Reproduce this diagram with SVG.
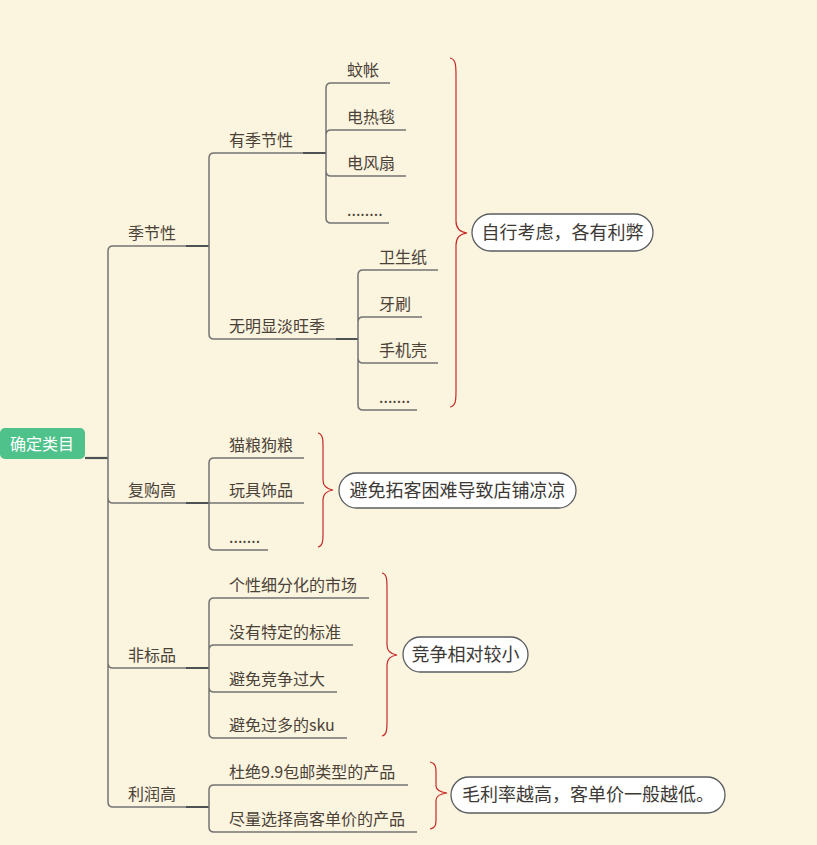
<svg xmlns="http://www.w3.org/2000/svg" width="817" height="845" viewBox="0 0 817 845">
<style>
text{font-family:"Noto Sans CJK SC","Noto Sans",sans-serif;font-size:16px;fill:#4a4238}
.co{font-size:18px;fill:#3d3a36;text-anchor:middle}
.root{fill:#ffffff;text-anchor:middle;font-size:16px}
.ln{fill:none;stroke:#737373;stroke-width:1.5}
.tk{fill:none;stroke:#4f5255;stroke-width:2.2}
.br{fill:none;stroke:#c62a2a;stroke-width:1.2}
.box{fill:#ffffff;stroke:#5a5d60;stroke-width:1.3}
</style>
<rect x="0" y="0" width="817" height="845" fill="#fbf4de"/>
<g id="connectors">
<path class="tk" d="M85,458 H108"/>
<path class="ln" d="M108,458 V251 Q108,246 113,246 M108,458 V498 Q108,503 113,503 M108,458 V663 Q108,668 113,668 M108,458 V802 Q108,807 113,807"/>
<path class="tk" d="M186,246 H209 M186,503 H209 M186,668 H209 M186,807 H209 M303,153 H326 M336,339 H358"/>
<path class="ln" d="M209,246 V158 Q209,153 214,153 M209,246 V334 Q209,339 214,339"/>
<path class="ln" d="M326,153 V88 Q326,83 331,83 M326,153 V135 Q326,130 331,130 M326,153 V171 Q326,176 331,176 M326,153 V218 Q326,223 331,223"/>
<path class="ln" d="M358,339 V275 Q358,270 363,270 M358,339 V322 Q358,317 363,317 M358,339 V358 Q358,363 363,363 M358,339 V405 Q358,410 363,410"/>
<path class="ln" d="M209,503 V463 Q209,458 214,458 M209,503 V545 Q209,550 214,550"/>
<path class="ln" d="M209,668 V603 Q209,598 214,598 M209,668 V650 Q209,645 214,645 M209,668 V687 Q209,692 214,692 M209,668 V733 Q209,738 214,738"/>
<path class="ln" d="M209,807 V790 Q209,785 214,785 M209,807 V827 Q209,832 214,832"/>
</g>
<g id="root"><rect x="0" y="428" width="85" height="31" rx="5" fill="#4fc28b"/><text class="root" x="42" y="450">确定类目</text></g>
<g id="n-jijiexing"><path class="ln" d="M113,246 H186"/><text x="128" y="239">季节性</text></g>
<g id="n-youjijiexing"><path class="ln" d="M214,153 H303"/><text x="229" y="146">有季节性</text></g>
<g id="n-wenzhang"><path class="ln" d="M331,83 H390"/><text x="347" y="76">蚊帐</text></g>
<g id="n-dianretan"><path class="ln" d="M331,130 H406"/><text x="347" y="123">电热毯</text></g>
<g id="n-dianfengshan"><path class="ln" d="M331,176 H406"/><text x="347" y="169">电风扇</text></g>
<g id="n-dots1"><path class="ln" d="M331,223 H389"/><text x="347" y="216">........</text></g>
<g id="n-wuming"><path class="ln" d="M214,339 H336"/><text x="229" y="332">无明显淡旺季</text></g>
<g id="n-weishengzhi"><path class="ln" d="M363,270 H438"/><text x="379" y="263">卫生纸</text></g>
<g id="n-yashua"><path class="ln" d="M363,317 H422"/><text x="379" y="310">牙刷</text></g>
<g id="n-shoujike"><path class="ln" d="M363,363 H438"/><text x="379" y="356">手机壳</text></g>
<g id="n-dots2"><path class="ln" d="M363,410 H417"/><text x="379" y="403">.......</text></g>
<g id="n-fugou"><path class="ln" d="M113,503 H186"/><text x="128" y="496">复购高</text></g>
<g id="n-maoliang"><path class="ln" d="M214,458 H304"/><text x="229" y="451">猫粮狗粮</text></g>
<g id="n-wanju"><path class="ln" d="M209,503 H304"/><text x="229" y="496">玩具饰品</text></g>
<g id="n-dots3"><path class="ln" d="M214,550 H268"/><text x="229" y="543">.......</text></g>
<g id="n-feibiao"><path class="ln" d="M113,668 H186"/><text x="128" y="661">非标品</text></g>
<g id="n-gexing"><path class="ln" d="M214,598 H369"/><text x="229" y="591">个性细分化的市场</text></g>
<g id="n-meiyou"><path class="ln" d="M214,645 H353"/><text x="229" y="638">没有特定的标准</text></g>
<g id="n-bimian1"><path class="ln" d="M214,692 H337"/><text x="229" y="685">避免竞争过大</text></g>
<g id="n-bimian2"><path class="ln" d="M214,738 H347"/><text x="229" y="731">避免过多的sku</text></g>
<g id="n-lirun"><path class="ln" d="M113,807 H186"/><text x="128" y="800">利润高</text></g>
<g id="n-dujue"><path class="ln" d="M214,785 H408"/><text x="229" y="778">杜绝9.9包邮类型的产品</text></g>
<g id="n-jinliang"><path class="ln" d="M214,832 H417"/><text x="229" y="825">尽量选择高客单价的产品</text></g>
<g id="brace1"><path class="br" d="M450,58 C456,59 456,66 456,76 L456,221 C456,228 459,232 467,233 C459,234 456,238 456,245 L456,390 C456,400 456,406 450,407"/></g>
<g id="brace2"><path class="br" d="M318,433 C323,434 323,440 323,447 L323,480 C323,486 326,489 333,490 C326,491 323,494 323,500 L323,533 C323,540 323,546 318,547"/></g>
<g id="brace3"><path class="br" d="M382,573 C387,574 387,580 387,589 L387,645 C387,651 390,654 397,655 C390,656 387,659 387,665 L387,720 C387,729 387,735 382,736"/></g>
<g id="brace4"><path class="br" d="M430,762 C436,763 436,768 436,773 L436,786 C436,790 440,792 447,793 C440,794 436,796 436,800 L436,818 C436,824 436,828 430,829"/></g>
<g id="callout1"><rect class="box" x="472" y="214" width="181" height="37" rx="18.5"/><text class="co" x="562.5" y="239">自行考虑，各有利弊</text></g>
<g id="callout2"><rect class="box" x="339" y="473" width="237" height="35" rx="17.5"/><text class="co" x="457.5" y="497">避免拓客困难导致店铺凉凉</text></g>
<g id="callout3"><rect class="box" x="403" y="637" width="125" height="35" rx="17.5"/><text class="co" x="465.5" y="661">竞争相对较小</text></g>
<g id="callout4"><rect class="box" x="451" y="777" width="274" height="36" rx="18"/><text class="co" x="588" y="801">毛利率越高，客单价一般越低。</text></g>
</svg>
